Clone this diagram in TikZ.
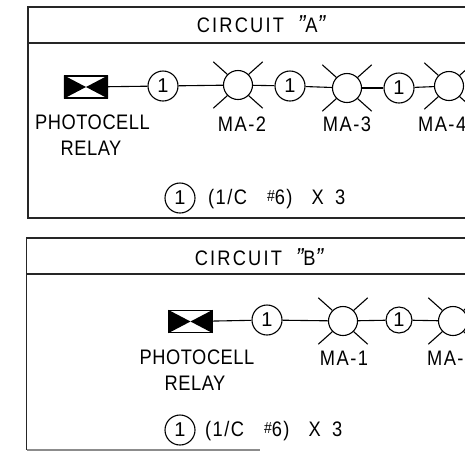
\documentclass[tikz,border=0pt]{standalone}
\usepackage{fontspec}
\setmainfont{Liberation Sans}
\newcommand{\qq}{{\itshape\fontsize{26}{26}\selectfont\raisebox{-1.5pt}{"}}}
\newcommand{\lampat}[4]{% name, x, y, radius
  \node[lampbody,minimum size=#4] (#1) at (#2,#3) {};
  \draw[ln] (#1.45) -- ++(14,-12.5);
  \draw[ln] (#1.135) -- ++(-14,-12.5);
  \draw[ln] (#1.-45) -- ++(14,12.5);
  \draw[ln] (#1.-135) -- ++(-14,12.5);
}
\newcommand{\relayat}[3]{% name, x, y
  \node[relaybox] (#1) at (#2,#3) {};
  \fill (#1.north west) -- (#1.center) -- (#1.south west) -- cycle;
  \fill (#1.north east) -- (#1.center) -- (#1.south east) -- cycle;
}
\newcommand{\legendtext}{(1/C\hspace{23pt}\raisebox{2.5pt}{\fontsize{16}{16}\selectfont\#}6)\hspace{22pt}X\hspace{13pt}3}
\tikzset{
  ln/.style={line width=1.1pt,black},
  frameline/.style={line width=1.2pt,black!85},
  lampbody/.style={circle,draw,line width=1.1pt,inner sep=0pt,fill=white},
  relaybox/.style={rectangle,draw,line width=1.1pt,inner sep=0pt,minimum width=43pt,minimum height=22pt},
  tag/.style={circle,draw,line width=1.1pt,inner sep=0pt,minimum size=30pt,fill=white,font=\fontsize{20}{22}\selectfont},
  lbl/.style={inner sep=0pt,transform shape,xscale=.87,font=\fontsize{21}{24}\selectfont\addfontfeature{LetterSpace=3}},
  lblwide/.style={inner sep=0pt,transform shape,xscale=.87,font=\fontsize{21}{24}\selectfont\addfontfeature{LetterSpace=8}},
  lbltitle/.style={inner sep=0pt,transform shape,xscale=.87,font=\fontsize{21}{24}\selectfont\addfontfeature{LetterSpace=12}},
}
\begin{document}
\begin{tikzpicture}[x=1pt,y=-1pt]
\useasboundingbox (0,0) rectangle (465,451);
\clip (0,0) rectangle (465,451);
% Circuit A
\draw[frameline] (490,7) -- (28,7) -- (28,218) -- (490,218);
\draw[frameline] (28,43) -- (490,43);
\node[lbltitle] (ta) at (261,25) {CIRCUIT\hspace{16pt}\qq A\qq};
\relayat{ra}{86}{87}
\node[tag] (a1) at (163,86) {1};
\lampat{la2}{238}{85}{29pt}
\node[tag] (a2) at (290,86) {1};
\lampat{la3}{347}{88}{29pt}
\node[tag] (a3) at (399,88) {1};
\lampat{la4}{449}{86}{29pt}
\draw[ln] (ra) -- (a1);
\draw[ln] (a1) -- (la2);
\draw[ln] (la2) -- (a2);
\draw[ln] (a2) -- (la3);
\draw[ln] (la3) -- (a3);
\draw[ln] (a3) -- (la4);
\node[lbl] (pa) at (92.5,122) {PHOTOCELL};
\node[lbl] (rla) at (91,148) {RELAY};
\node[lblwide] (ma2) at (242,124) {MA-2};
\node[lblwide] (ma3) at (347,124) {MA-3};
\node[lblwide,anchor=west] (ma4) at (418,124) {MA-4};
\node[tag] (ka) at (180,198) {1};
\node[lblwide,anchor=west] (ca) at (208,199) {\legendtext};
% Circuit B
\draw[frameline] (490,238) -- (26.5,238) -- (26.5,450);
\draw[frameline] (26.5,274) -- (490,274);
\draw[line width=1.2pt,black!45] (26.5,450) -- (260,450);
\node[lbltitle] (tb) at (259,258) {CIRCUIT\hspace{16pt}\qq B\qq};
\relayat{rb}{190.5}{321.5}
\node[tag] (b1) at (267,320) {1};
\lampat{lb1}{343}{321}{29pt}
\node[tag,minimum size=26pt] (b2) at (399,320) {1};
\lampat{lb2}{453}{321}{29pt}
\draw[ln] (rb) -- (b1);
\draw[ln] (b1) -- (lb1);
\draw[ln] (lb1) -- (b2);
\draw[ln] (b2) -- (lb2);
\node[lbl] (pb) at (197,357) {PHOTOCELL};
\node[lbl] (rlb) at (195,383) {RELAY};
\node[lblwide] (ma1) at (344,358) {MA-1};
\node[lblwide,anchor=west] (mab) at (427,358) {MA-};
\node[tag] (kb) at (180,430) {1};
\node[lblwide,anchor=west] (cb) at (205,431) {\legendtext};
\end{tikzpicture}
\end{document}
